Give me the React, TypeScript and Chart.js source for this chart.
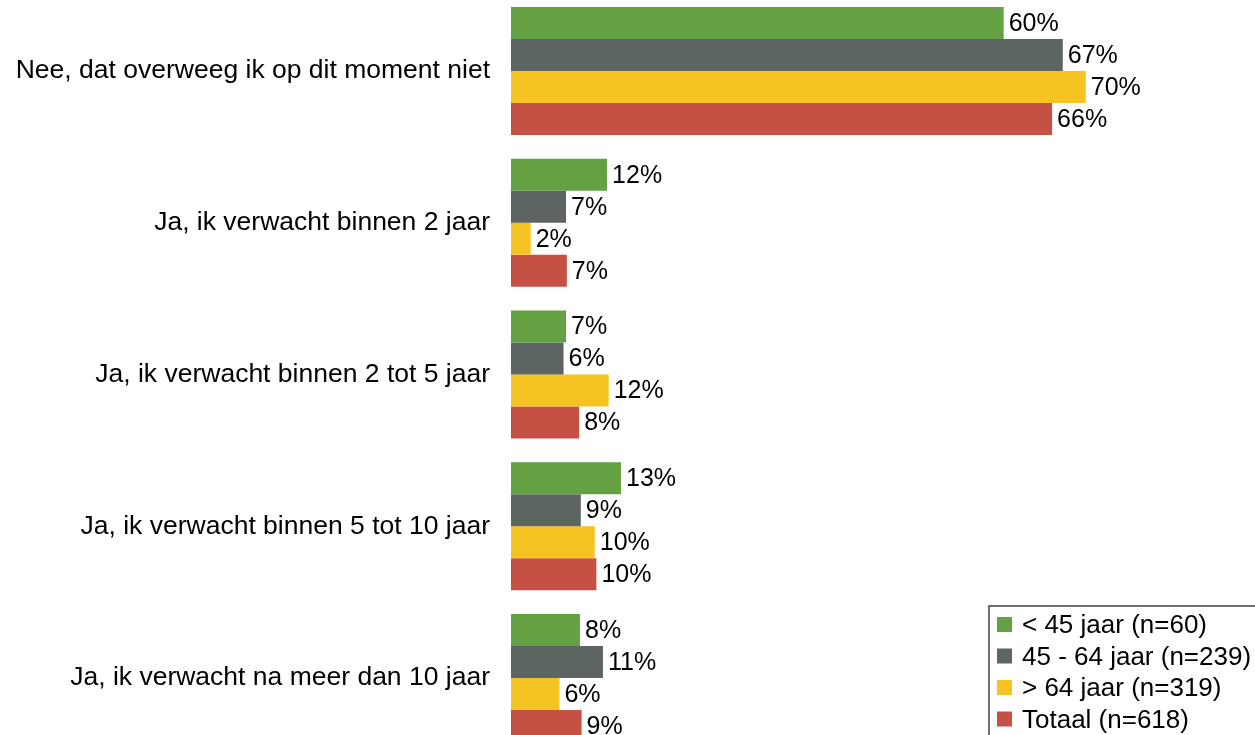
import React, { useEffect, useRef } from "react";
import { Chart, registerables } from "chart.js";

Chart.register(...registerables);

const categories = [
  "Nee, dat overweeg ik op dit moment niet",
  "Ja, ik verwacht binnen 2 jaar",
  "Ja, ik verwacht binnen 2 tot 5 jaar",
  "Ja, ik verwacht binnen 5 tot 10 jaar",
  "Ja, ik verwacht na meer dan 10 jaar",
];
const seriesLabels = [
  "< 45 jaar (n=60)",
  "45 - 64 jaar (n=239)",
  "> 64 jaar (n=319)",
  "Totaal (n=618)",
];
const under45 = [60.0, 11.7, 6.7, 13.4, 8.4];
const age45to64 = [67.2, 6.7, 6.4, 8.5, 11.2];
const over64 = [70.0, 2.4, 11.9, 10.2, 5.9];
const total = [65.9, 6.8, 8.3, 10.4, 8.6];
const colors = ["#63A143", "#5D6563", "#F5C423", "#C55044"];

const FONT = '"Liberation Sans", Arial, Helvetica, sans-serif';
const LABEL_SIZE = 25;
const TICK_SIZE = 26.5;
const LEGEND_SIZE = 26;
const OFFSET_Y = 5;

const labelPlugin = {
  id: "barLabels",
  afterDatasetsDraw(chart: any) {
    const ctx = chart.ctx;
    ctx.save();
    ctx.font = `${LABEL_SIZE}px ${FONT}`;
    ctx.fillStyle = "#000";
    ctx.textAlign = "left";
    ctx.textBaseline = "middle";
    chart.data.datasets.forEach((ds: any, i: number) => {
      const meta = chart.getDatasetMeta(i);
      meta.data.forEach((el: any, j: number) => {
        const v = ds.data[j];
        ctx.fillText(Math.round(v) + "%", el.x + 5, el.y + 1);
      });
    });
    ctx.restore();
  },
};

const legendPlugin = {
  id: "boxLegend",
  afterDraw(chart: any) {
    const ctx = chart.ctx;
    const left = 988;
    const top = 605 + OFFSET_Y;
    ctx.save();
    ctx.fillStyle = "#fff";
    ctx.fillRect(left, top, 400, 300);
    ctx.strokeStyle = "#6f6f6f";
    ctx.lineWidth = 2;
    ctx.strokeRect(left + 1, top + 1, 400, 300);
    ctx.font = `${LEGEND_SIZE}px ${FONT}`;
    ctx.textBaseline = "middle";
    ctx.textAlign = "left";
    chart.data.datasets.forEach((ds: any, i: number) => {
      const cy = 625 + OFFSET_Y + i * 31.5;
      ctx.fillStyle = ds.backgroundColor;
      ctx.fillRect(997, cy - 8, 15, 15);
      ctx.fillStyle = "#000";
      ctx.fillText(ds.label, 1022, cy + 1);
    });
    ctx.restore();
  },
};

export default function App() {
  const ref = useRef<HTMLCanvasElement | null>(null);
  useEffect(() => {
    if (!ref.current) return;
    const seriesData = [under45, age45to64, over64, total];
    const chart = new Chart(ref.current, {
      type: "bar",
      data: {
        labels: categories,
        datasets: seriesData.map((d, i) => ({
          label: seriesLabels[i],
          data: d,
          backgroundColor: colors[i],
          borderWidth: 0,
          categoryPercentage: 128 / 151.8,
          barPercentage: 1,
        })),
      },
      options: {
        indexAxis: "y",
        responsive: false,
        animation: false,
        layout: { padding: { left: 0, right: 5, top: 0, bottom: 0 } },
        plugins: {
          legend: { display: false },
          tooltip: { enabled: false },
          title: { display: false },
        },
        scales: {
          x: {
            display: false,
            min: 0,
            max: 90,
          },
          y: {
            grid: { display: false, drawTicks: false },
            border: { display: false },
            ticks: {
              color: "#000",
              padding: 21,
              font: { size: TICK_SIZE, family: FONT },
            },
            afterFit(scale: any) {
              scale.width = 511;
              scale.paddingTop = 0;
              scale.paddingBottom = 0;
            },
          },
        },
      },
      plugins: [labelPlugin, legendPlugin],
    } as any);
    return () => chart.destroy();
  }, []);
  return (
    <div
      style={{
        position: "fixed",
        left: 0,
        top: 0,
        width: 1255,
        height: 735,
        overflow: "hidden",
        background: "#fff",
      }}
    >
      <div style={{ position: "absolute", left: 0, top: -OFFSET_Y, width: 1255, height: 759 }}>
        <canvas ref={ref} width={1255} height={759} style={{ display: "block" }} />
      </div>
    </div>
  );
}
